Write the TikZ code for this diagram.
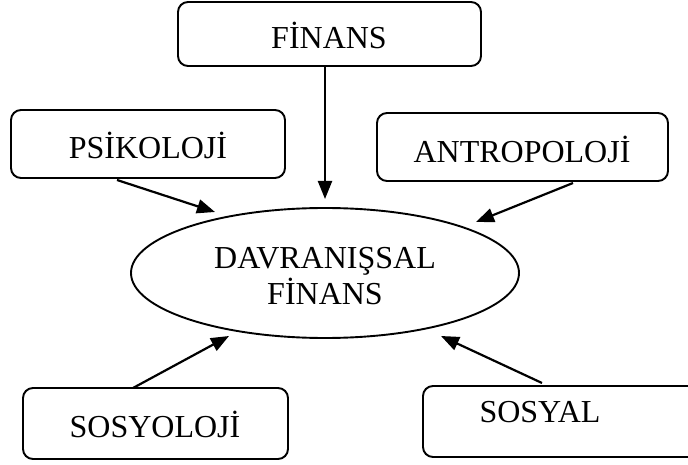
\documentclass[tikz,border=0pt]{standalone}
\usepackage{fontspec}
\setmainfont{Liberation Serif}
\usetikzlibrary{arrows.meta}
\begin{document}
\begin{tikzpicture}[x=1pt,y=-1pt,
  box/.style={draw,line width=1.9pt,rounded corners=10pt},
  lbl/.style={font=\fontsize{32}{36}\selectfont,inner sep=0pt},
  arr/.style={line width=2.2pt,-{Triangle[length=18pt,width=14pt]}}]
\clip (0,0) rectangle (688,465);
\useasboundingbox (0,0) rectangle (688,465);
% boxes
\draw[box] (178,2) rectangle (481,66);
\node[lbl] (fin) at (329,35) {FİNANS};
\coordinate (finb) at (325,66);
\draw[box] (11,110) rectangle (285,178);
\node[lbl] (psi) at (148,145) {PSİKOLOJİ};
\coordinate (psib) at (117,180);
\draw[box] (377,113) rectangle (668,181);
\node[lbl] (ant) at (522,149) {ANTROPOLOJİ};
\coordinate (antb) at (573,183);
\draw[box] (23,388) rectangle (288,459);
\node[lbl] (sos) at (155,424) {SOSYOLOJİ};
\coordinate (sost) at (133,388);
\draw[box] (423,386) rectangle (710,457);
\node[lbl] (sps) at (540,412) {SOSYAL};
\coordinate (spst) at (542,383);
% ellipse
\draw[line width=1.9pt] (325,273) ellipse (194 and 65);
\node[lbl,align=center] (dav) at (325,276) {DAVRANIŞSAL\\[0pt]FİNANS};
% target points
\coordinate (t1) at (325,199);
\coordinate (t2) at (215,212);
\coordinate (t3) at (476,222);
\coordinate (t4) at (229,336);
\coordinate (t5) at (441,336);
\draw[arr] (finb) -- (t1);
\draw[arr] (psib) -- (t2);
\draw[arr] (antb) -- (t3);
\draw[arr] (sost) -- (t4);
\draw[arr] (spst) -- (t5);
\end{tikzpicture}
\end{document}
